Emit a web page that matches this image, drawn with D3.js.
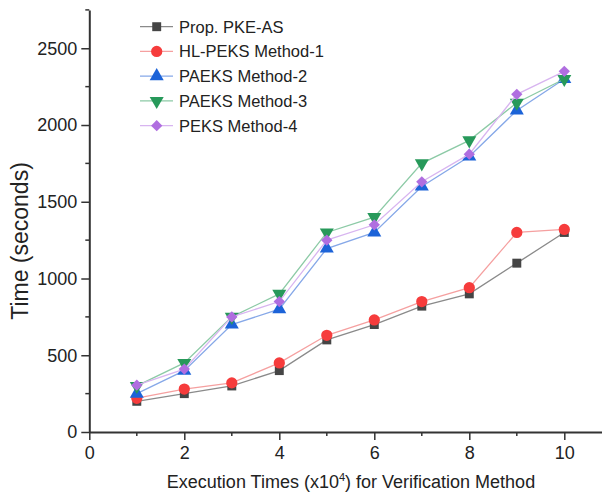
<!DOCTYPE html>
<html>
<head>
<meta charset="utf-8">
<script src="https://cdn.jsdelivr.net/npm/d3@7"></script>
<style>
    body { margin: 0; background: #fff; }
    text { font-family: "Liberation Sans", Arial, sans-serif; fill: #222; }
</style>
</head>
<body>
<svg id="chart" width="602" height="495"></svg>
<script>
// data
var xs = [1, 2, 3, 4, 5, 6, 7, 8, 9, 10];
var names = ["Prop. PKE-AS", "HL-PEKS Method-1", "PAEKS Method-2", "PAEKS Method-3", "PEKS Method-4"];
var prop_pke = [200, 250, 300, 400, 600, 700, 820, 900, 1100, 1300];
var hl_peks1 = [220, 280, 320, 450, 630, 730, 850, 940, 1300, 1320];
var paeks2 = [250, 400, 700, 800, 1195, 1300, 1600, 1795, 2095, 2300];
var paeks3 = [300, 450, 750, 900, 1300, 1400, 1750, 1900, 2145, 2300];
var peks4 = [305, 410, 750, 850, 1250, 1350, 1630, 1810, 2200, 2350];
var xticks = [0, 2, 4, 6, 8, 10];
var yticks = [0, 500, 1000, 1500, 2000, 2500];

var series = [prop_pke, hl_peks1, paeks2, paeks3, peks4];
var markers = [d3.symbolSquare, d3.symbolCircle, d3.symbolTriangle, d3.symbolTriangle, d3.symbolSquare];
var mrot = [0, 0, 0, 180, 45];
var msize = [80, 100, 85, 85, 64];
var mcolor = ["#454545", "#f63c3c", "#1c63d8", "#27995a", "#b06ee0"];
var lcolor = ["#8a8a8a", "#f5a0a0", "#86a8e8", "#8ccaa6", "#d8b5f0"];

var svg = d3.select("#chart");

var x = d3.scaleLinear().domain([0, 11]).range([89.3, 611.8]);
var y = d3.scaleLinear().domain([0, 2750]).range([432, 9.9]);

draw_axes();
draw_lines();
draw_legend();

function draw_axes() {
    // minor ticks
    var xminor = [1, 3, 5, 7, 9];
    var yminor = d3.range(250, 2751, 500);

    svg.selectAll("line.xminor").data(xminor).enter().append("line")
        .attr("x1", function(d) { return x(d); }).attr("x2", function(d) { return x(d); })
        .attr("y1", 432).attr("y2", 436)
        .attr("stroke", "#333").attr("stroke-width", 1.5);
    svg.selectAll("line.yminor").data(yminor).enter().append("line")
        .attr("y1", function(d) { return y(d); }).attr("y2", function(d) { return y(d); })
        .attr("x1", 85.3).attr("x2", 89.3)
        .attr("stroke", "#333").attr("stroke-width", 1.5);

    var xa = svg.append("g").attr("transform", "translate(0,432)")
        .call(d3.axisBottom(x).tickValues(xticks).tickFormat(d3.format("d"))
            .tickSize(8).tickSizeOuter(0).tickPadding(6));
    var ya = svg.append("g").attr("transform", "translate(89.3,0)")
        .call(d3.axisLeft(y).tickValues(yticks).tickFormat(d3.format("d"))
            .tickSize(8).tickSizeOuter(0).tickPadding(4));

    [xa, ya].forEach(function(a) {
        a.select(".domain").attr("stroke", "#333").attr("stroke-width", 2);
        a.selectAll(".tick line").attr("stroke", "#333").attr("stroke-width", 1.5);
        a.selectAll(".tick text").style("font-size", "18px").attr("fill", "#222");
    });

    var xl = svg.append("text").attr("x", 351).attr("y", 488)
        .attr("text-anchor", "middle").style("font-size", "18px");
    xl.append("tspan").text("Execution Times (x10");
    xl.append("tspan").text("4").attr("dy", -7).style("font-size", "11px");
    xl.append("tspan").text(") for Verification Method").attr("dy", 7);

    svg.append("text").attr("transform", "translate(28,241) rotate(-90)")
        .attr("text-anchor", "middle").style("font-size", "23px")
        .text("Time (seconds)");
}

function draw_lines() {
    var line = d3.line()
        .x(function(d, i) { return x(xs[i]); })
        .y(function(d) { return y(d); });

    series.forEach(function(s, k) {
        svg.append("path").datum(s)
            .attr("d", line)
            .attr("fill", "none")
            .attr("stroke", lcolor[k])
            .attr("stroke-width", 1.3);
        svg.selectAll("path.m" + k).data(s).enter().append("path")
            .attr("class", "m" + k)
            .attr("d", d3.symbol().type(markers[k]).size(msize[k]))
            .attr("transform", function(d, i) {
                return "translate(" + x(xs[i]) + "," + y(d) + ") rotate(" + mrot[k] + ")";
            })
            .attr("fill", mcolor[k]);
    });
}

function draw_legend() {
    names.forEach(function(n, k) {
        var cy = 26.7 + k * 24.75;
        svg.append("line").attr("x1", 140).attr("x2", 173).attr("y1", cy).attr("y2", cy)
            .attr("stroke", lcolor[k]).attr("stroke-width", 1.3);
        svg.append("path")
            .attr("d", d3.symbol().type(markers[k]).size(msize[k]))
            .attr("transform", "translate(156.7," + cy + ") rotate(" + mrot[k] + ")")
            .attr("fill", mcolor[k]);
        svg.append("text").attr("x", 179).attr("y", cy + 6)
            .style("font-size", "16.5px").text(n);
    });
}
</script>
</body>
</html>
